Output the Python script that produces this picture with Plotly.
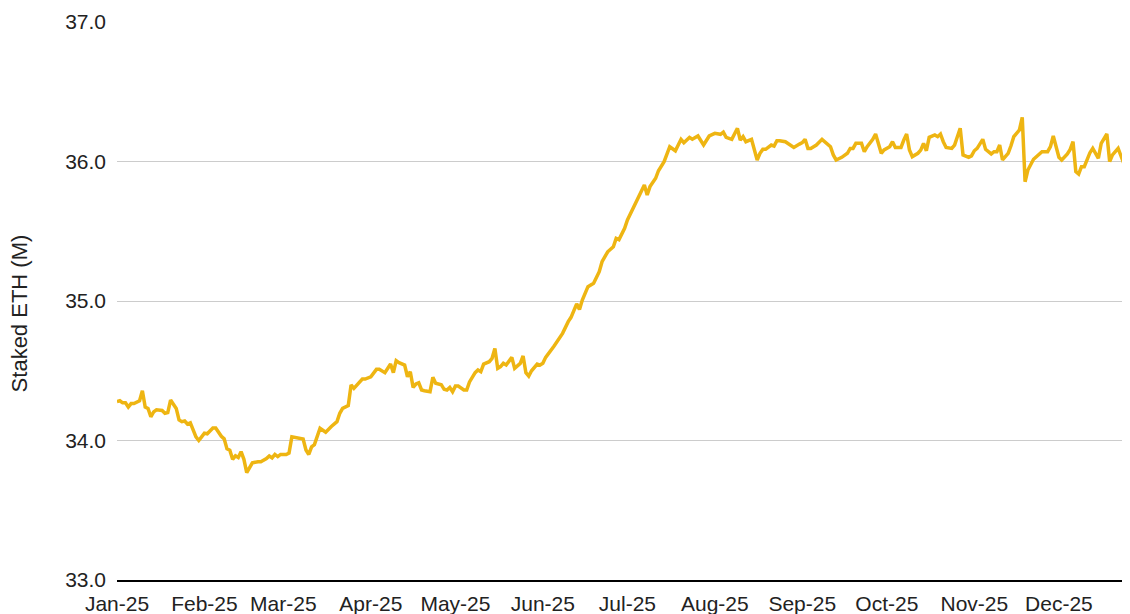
import pandas as pd
import plotly.graph_objects as go

# Day offsets from 2025-01-01 and staked ETH (millions)
day_offsets = [
    0, 1, 2, 3, 4, 5, 6, 8, 9, 10, 11, 12, 13, 14, 16, 17, 18, 19, 21, 22,
    23, 24, 25, 26, 28, 29, 30, 31, 32, 34, 35, 36, 37, 38, 39, 40, 41, 42, 43, 44,
    45, 46, 47, 48, 50, 51, 53, 54, 55, 56, 57, 58, 60, 61, 62, 64, 66, 67, 68, 69,
    70, 72, 73, 74, 76, 78, 79, 80, 82, 83, 84, 86,
    87, 88, 90, 92, 93, 95, 97, 98, 99, 100, 102, 103, 104, 105, 106, 107, 108, 109,
    111, 112, 113, 115, 116, 117, 118, 119, 120, 121, 123, 124, 125, 127, 128, 129, 130,
    132, 133, 134, 135, 136, 137, 138, 140, 141, 142, 143, 144, 145, 146, 147, 149, 150,
    151, 152, 155,
    156, 158, 160, 161, 163, 164, 165, 167, 169, 171, 172, 174, 176, 177, 178, 180, 181,
    183, 185, 187, 188, 189, 191, 192, 194, 196, 198, 200, 201, 203, 204, 206, 208, 210,
    212, 214, 215,
    216, 218, 219, 220, 221, 222, 223, 225, 227, 228, 229, 230, 232, 233, 234, 235, 237,
    239, 240, 242, 243, 244, 245, 246, 248, 250, 251, 253, 254, 255, 257, 259, 260, 261,
    262, 264, 265, 266, 268, 269, 271, 272, 274, 275, 276, 278, 279, 280, 281, 282, 284,
    285, 286, 287, 288, 290, 291, 292, 293, 294, 296, 297, 299, 300, 302, 303, 304, 305,
    307, 308, 310, 311, 312, 313, 314, 316, 317, 318, 320, 321, 322, 323, 325, 326, 328,
    330, 331, 332, 334, 335, 337, 338, 339, 340, 341, 342, 343, 345, 346, 348, 349, 351,
    352, 353, 355, 357, 358, 359, 360,
]

staked_eth_m = [
    34.280, 34.285, 34.270, 34.270, 34.240, 34.265, 34.265, 34.285, 34.357, 34.240,
    34.230, 34.170, 34.205, 34.220, 34.215, 34.195, 34.200, 34.290, 34.230, 34.147,
    34.135, 34.140, 34.118, 34.127, 34.026, 34.000, 34.026, 34.052, 34.048, 34.090,
    34.090, 34.060, 34.030, 34.012, 33.940, 33.930, 33.865, 33.890, 33.878, 33.920,
    33.865, 33.770, 33.808, 33.840, 33.848, 33.848, 33.870, 33.889, 33.875, 33.900,
    33.885, 33.900, 33.900, 33.910, 34.026, 34.020, 34.010, 33.932, 33.900, 33.955,
    33.970, 34.088, 34.074, 34.060, 34.100, 34.135, 34.195, 34.230, 34.250, 34.398,
    34.374, 34.420,
    34.440, 34.440, 34.457, 34.510, 34.510, 34.486, 34.548, 34.486, 34.572, 34.558,
    34.541, 34.457, 34.493, 34.381, 34.405, 34.414, 34.362, 34.357,
    34.350, 34.453, 34.410, 34.400, 34.367, 34.362, 34.380, 34.350, 34.390, 34.390,
    34.362, 34.362, 34.420, 34.486, 34.505, 34.493, 34.548,
    34.565, 34.589, 34.660, 34.517, 34.530, 34.553, 34.541, 34.596, 34.517, 34.534,
    34.553, 34.606, 34.486, 34.462, 34.500, 34.548, 34.541,
    34.553, 34.596, 34.677,
    34.708, 34.768, 34.852, 34.883, 34.979, 34.940, 35.007, 35.103, 35.127, 35.210,
    35.282, 35.353, 35.389, 35.449, 35.440, 35.521, 35.581,
    35.665, 35.748, 35.832, 35.760, 35.820, 35.880, 35.934, 35.999, 36.106, 36.077,
    36.159, 36.135, 36.173, 36.160, 36.183, 36.118, 36.183,
    36.202, 36.195, 36.210,
    36.173, 36.159, 36.202, 36.238, 36.154, 36.178, 36.142, 36.159, 36.011, 36.059,
    36.087, 36.087, 36.118, 36.110, 36.149, 36.149, 36.142,
    36.118, 36.101, 36.125, 36.135, 36.159, 36.094, 36.094, 36.118, 36.159, 36.142,
    36.106, 36.047, 36.011, 36.030, 36.059, 36.094, 36.094,
    36.130, 36.130, 36.070, 36.106, 36.159, 36.197, 36.059, 36.083, 36.106, 36.142,
    36.101, 36.101, 36.154, 36.197, 36.082, 36.035, 36.059,
    36.082, 36.130, 36.077, 36.173, 36.190, 36.178, 36.197, 36.142, 36.101, 36.094,
    36.118, 36.238, 36.047, 36.030, 36.040, 36.077, 36.094,
    36.159, 36.087, 36.054, 36.070, 36.070, 36.118, 36.011, 36.059, 36.113, 36.178,
    36.226, 36.317, 35.855, 35.939, 36.016, 36.035, 36.070,
    36.070, 36.106, 36.183, 36.030, 36.011, 36.054, 36.087, 36.142, 35.927, 35.910,
    35.963, 35.963, 36.063, 36.094, 36.023, 36.130, 36.197,
    35.999, 36.047, 36.094, 35.987, 36.035, 36.047, 36.060,
]

month_starts = [
    "2025-01-01", "2025-02-01", "2025-03-01", "2025-04-01", "2025-05-01", "2025-06-01",
    "2025-07-01", "2025-08-01", "2025-09-01", "2025-10-01", "2025-11-01", "2025-12-01",
]
month_labels = [
    "Jan-25", "Feb-25", "Mar-25", "Apr-25", "May-25", "Jun-25",
    "Jul-25", "Aug-25", "Sep-25", "Oct-25", "Nov-25", "Dec-25",
]
y_ticks = [33, 34, 35, 36, 37]

assert len(day_offsets) == len(staked_eth_m), (len(day_offsets), len(staked_eth_m))

dates = pd.Timestamp("2025-01-01") + pd.to_timedelta(day_offsets, unit="D")

FONT = "Arial, 'Liberation Sans', sans-serif"

fig = go.Figure(
    go.Scatter(
        x=dates,
        y=staked_eth_m,
        mode="lines",
        line=dict(color="#EEB512", width=3.5),
        hoverinfo="x+y",
    )
)

fig.update_layout(
    width=1122,
    height=606,
    margin=dict(l=109, r=0, t=14, b=34),
    plot_bgcolor="white",
    paper_bgcolor="white",
    showlegend=False,
    font=dict(family=FONT, size=21, color="#222222"),
    xaxis=dict(
        type="date",
        range=["2025-01-01", "2025-12-26 05:00"],
        tickmode="array",
        tickvals=month_starts,
        ticktext=month_labels,
        showgrid=False,
        zeroline=False,
        showline=True,
        linecolor="#000000",
        linewidth=2,
        ticks="",
        ticklabelstandoff=4,
        tickfont=dict(family=FONT, size=21, color="#222222"),
    ),
    yaxis=dict(
        range=[33, 37],
        tickmode="array",
        tickvals=y_ticks,
        ticktext=[f"{v:.1f}" for v in y_ticks],
        showgrid=True,
        gridcolor="#cccccc",
        gridwidth=1,
        zeroline=False,
        showline=False,
        ticks="",
        ticklabelstandoff=10,
        tickfont=dict(family=FONT, size=21, color="#222222"),
    ),
    annotations=[
        dict(
            text="Staked ETH (M)",
            xref="paper",
            yref="paper",
            x=-0.0962,
            y=0.477,
            xanchor="center",
            yanchor="middle",
            textangle=-90,
            showarrow=False,
            borderpad=0,
            font=dict(family=FONT, size=22, color="#222222"),
        )
    ],
)

fig.write_html("out.html")
